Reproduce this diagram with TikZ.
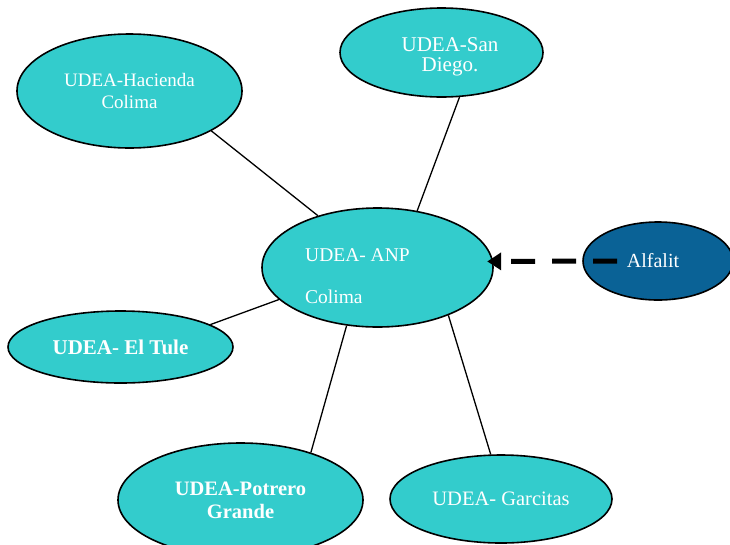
\documentclass[tikz,border=0pt]{standalone}
\usepackage{fontspec}
\setmainfont{Liberation Serif}
\usetikzlibrary{shapes.geometric,arrows.meta}
\definecolor{tealfill}{RGB}{51,204,204}
\definecolor{darkfill}{RGB}{10,98,150}
\tikzset{
  site/.style={ellipse, draw=black, line width=1.6pt, fill=tealfill, inner sep=0pt,
    text=white, align=center, font=\fontsize{19}{22}\selectfont},
  lbl/.style={text=white, inner sep=0pt, font=\fontsize{19}{22}\selectfont},
  link/.style={draw=black, line width=1.3pt},
  dasharrow/.style={draw=black, line width=5pt, dash pattern=on 24pt off 17pt,
    -{Triangle[length=14pt,width=17pt]}}
}
\begin{document}
\begin{tikzpicture}[x=1pt,y=-1pt]
\useasboundingbox (0,0) rectangle (730,544);
% ellipses
\node[site, minimum width=225pt, minimum height=114pt] (hac) at (129.5,91) {UDEA-Hacienda\\Colima};
\node[site, minimum width=203pt, minimum height=89pt] (sd) at (441.5,52.5) {};
\node[lbl, align=center, font=\fontsize{21}{20}\selectfont] (sdtext) at (450,57) {UDEA-San\\Diego.};
\node[site, minimum width=231pt, minimum height=119pt] (anp) at (377.5,267.5) {};
\node[lbl, align=left, anchor=west, font=\fontsize{19.5}{22}\selectfont] (anptext) at (305,276) {UDEA- ANP\\[20pt]Colima};
\node[site, fill=darkfill, minimum width=150pt, minimum height=78pt, font=\fontsize{20}{22}\selectfont] (alf) at (658,261) {\hspace*{-10pt}Alfalit};
\node[site, minimum width=225pt, minimum height=72pt, font=\fontsize{21}{22}\selectfont\bfseries] (tule) at (120.5,347) {UDEA- El Tule};
\node[site, minimum width=245pt, minimum height=114pt, font=\fontsize{20.5}{23}\selectfont\bfseries] (pot) at (240.5,500) {UDEA-Potrero\\Grande};
\node[site, minimum width=222pt, minimum height=88pt, font=\fontsize{20.5}{22}\selectfont] (gar) at (501,499) {UDEA- Garcitas};
% connectors
\draw[link] (hac.-26) -- (anp.139);
\draw[link] (sd.-68) -- (anp.55);
\draw[link] (tule.14) -- (anp.-162);
\draw[link] (pot.34) -- (anp.-118);
\draw[link] (gar.103) -- (anp.-34);
\draw[dasharrow] ([xshift=-41pt]alf.center) -- ([xshift=-6pt]anp.3);
\end{tikzpicture}
\end{document}
